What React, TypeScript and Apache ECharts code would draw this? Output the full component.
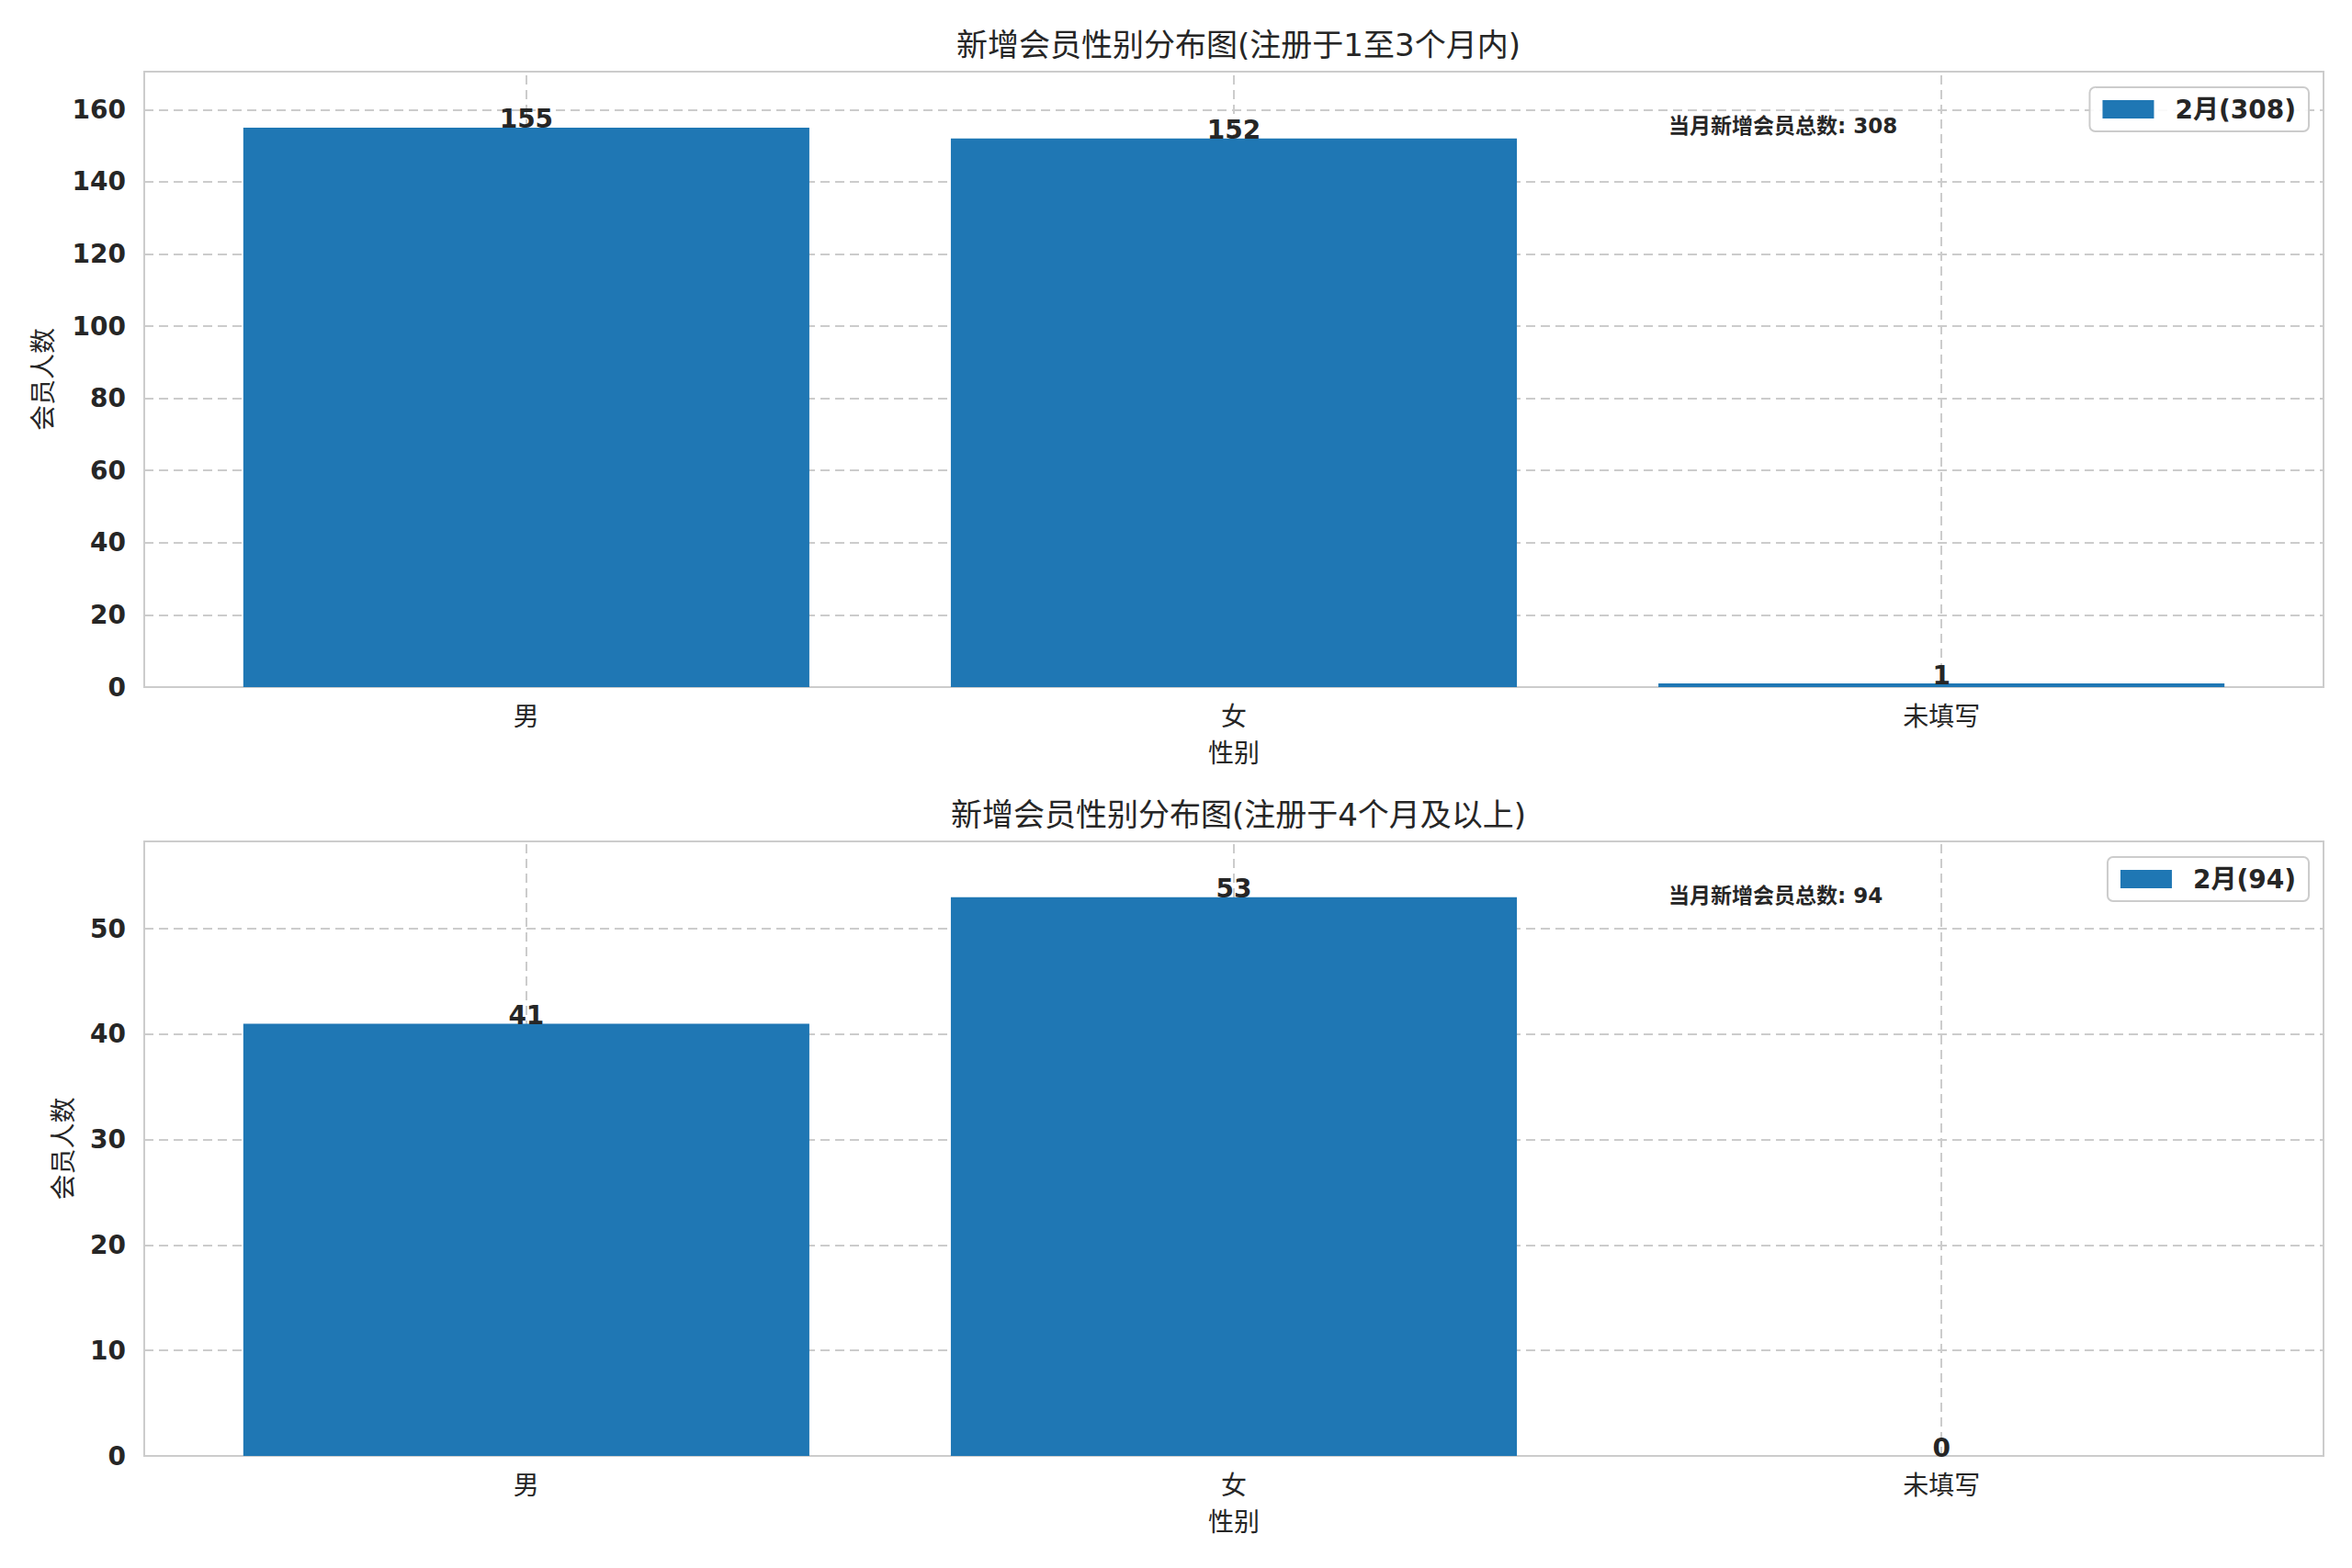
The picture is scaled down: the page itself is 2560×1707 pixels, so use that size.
import React, { useEffect, useRef } from "react";
import * as echarts from "echarts";

const categories = ["男", "女", "未填写"];
const values1 = [155, 152, 1];
const values2 = [41, 53, 0];
const titles = ["新增会员性别分布图(注册于1至3个月内)", "新增会员性别分布图(注册于4个月及以上)"];
const legendNames = ["2月(308)", "2月(94)"];
const totals = [308, 94];
const totalLabel = "当月新增会员总数";
const xName = "性别";
const yName = "会员人数";
const yMax = [170.5, 58.3];
const yInterval = [20, 10];
const xMin = -0.54;
const xMax = 2.54;

const W = 2560;
const H = 1707;
const GL = 157;
const GR = 31;
const GW = W - GL - GR;
const TOPS = [78, 916];
const HEIGHTS = [670, 669];
const NAME_GAPS = [96, 74];

const FONT = "'DejaVu Sans', 'Noto Sans CJK SC', sans-serif";
const TXT = "#262626";
const GRIDC = "#cccccc";
const BLUE = "#1f77b4";

export default function App() {
  const ref = useRef<HTMLDivElement>(null);
  useEffect(() => {
    if (!ref.current) return;
    const chart = echarts.init(ref.current, null, { renderer: "svg" });
    const unitPx = GW / (xMax - xMin);
    const barW = 0.8 * unitPx;
    const datasets = [values1, values2];

    const option: any = {
      animation: false,
      backgroundColor: "#ffffff",
      textStyle: { fontFamily: FONT, color: TXT },
      title: titles.map((t, i) => ({
        text: t,
        left: GL + GW / 2,
        textAlign: "center",
        top: TOPS[i] - 51,
        textStyle: { fontFamily: FONT, fontSize: 34, fontWeight: "normal", color: TXT },
      })),
      legend: legendNames.map((n, i) => ({
        data: [n],
        right: 47,
        top: TOPS[i] + 17,
        orient: "horizontal",
        padding: [10, 14],
        borderColor: GRIDC,
        borderWidth: 2,
        borderRadius: 6,
        backgroundColor: "rgba(255,255,255,0.9)",
        itemWidth: 56,
        itemHeight: 20,
        icon: "rect",
        textStyle: { fontFamily: FONT, fontSize: 28, fontWeight: "bold", color: TXT, padding: [0, 0, 0, 18] },
      })),
      grid: TOPS.map((t, i) => ({
        left: GL,
        top: t,
        width: GW,
        height: HEIGHTS[i],
        show: true,
        borderColor: GRIDC,
        borderWidth: 2,
        backgroundColor: "#ffffff",
        containLabel: false,
      })),
      xAxis: TOPS.map((_, i) => ({
        type: "value",
        gridIndex: i,
        min: xMin,
        max: xMax,
        name: xName,
        nameLocation: "middle",
        nameGap: 58,
        nameTextStyle: { fontFamily: FONT, fontSize: 28, color: TXT },
        axisLine: { show: false },
        axisTick: { show: false },
        splitLine: { show: false },
        axisLabel: {
          customValues: categories.map((_, k) => k),
          formatter: (v: number) => categories[Math.round(v)] ?? "",
          fontFamily: FONT,
          fontSize: 28,
          color: TXT,
          margin: 18,
        },
      })),
      yAxis: TOPS.map((_, i) => ({
        type: "value",
        gridIndex: i,
        min: 0,
        max: yMax[i],
        interval: yInterval[i],
        name: yName,
        nameLocation: "middle",
        nameGap: NAME_GAPS[i],
        nameTextStyle: { fontFamily: FONT, fontSize: 28, color: TXT },
        axisLine: { show: false },
        axisTick: { show: false },
        axisLabel: {
          showMaxLabel: false,
          fontFamily: FONT,
          fontSize: 28,
          fontWeight: "bold",
          color: TXT,
          margin: 20,
        },
        splitLine: { show: true, lineStyle: { color: GRIDC, width: 2, type: [10, 6] } },
      })),
      series: datasets.map((vals, i) => ({
        type: "bar",
        name: legendNames[i],
        xAxisIndex: i,
        yAxisIndex: i,
        barWidth: barW,
        z: 2,
        itemStyle: { color: BLUE },
        data: vals.map((v, k) => [k, v]),
        label: {
          show: true,
          position: "top",
          distance: -5,
          formatter: (p: any) => String(p.value[1]),
          fontFamily: FONT,
          fontSize: 28,
          fontWeight: "bold",
          color: TXT,
        },
        markLine: {
          silent: true,
          symbol: "none",
          z: 1,
          label: { show: false },
          lineStyle: { color: GRIDC, width: 2, type: [10, 6] },
          data: categories.map((_, k) => ({ xAxis: k })),
        },
      })),
      graphic: totals.map((t, i) => ({
        type: "text",
        left: 1816,
        top: TOPS[i] + 47,
        z: 10,
        style: {
          text: `${totalLabel}: ${t}`,
          fontFamily: FONT,
          fontSize: 23,
          fontWeight: "bold",
          fill: TXT,
        },
      })),
    };
    chart.setOption(option);
    return () => chart.dispose();
  }, []);
  return (
    <div
      ref={ref}
      style={{ position: "absolute", left: 0, top: 0, width: W, height: H, background: "#fff" }}
    />
  );
}
